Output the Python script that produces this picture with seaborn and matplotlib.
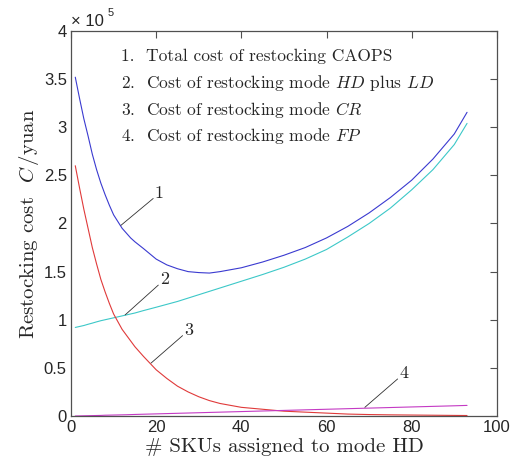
import pandas as pd
import matplotlib
matplotlib.use("Agg")
import matplotlib.pyplot as plt
from matplotlib.ticker import FuncFormatter, MultipleLocator
import seaborn as sns

# number of SKUs assigned to mode HD
n_sku = [1, 2, 3, 4, 5, 6, 7, 8, 9, 10, 11, 12, 13, 14, 15, 17, 20, 22.5, 25, 27.5, 30,
         32.5, 35, 40, 45, 50, 55, 60, 65, 70, 75, 80, 85, 90, 93]

# restocking costs (yuan)
cost_total = [352000, 330000, 309000, 291000, 272000, 256000, 242000, 230000, 219000,
              209000, 202000, 195000, 190000, 185000, 181000, 174000, 163000, 157000,
              153000, 150000, 149000, 148500, 150000, 154000, 160000, 167000, 175000,
              185000, 197000, 211000, 227000, 245000, 267000, 293000, 315500]
cost_hd_ld = [92000, 93000, 94000, 95300, 96500, 97800, 99000, 100000, 101000, 102000,
              103000, 104000, 105000, 106000, 107000, 109500, 113000, 116000, 119000,
              122500, 126000, 129500, 133000, 140000, 147000, 154500, 163000, 173000,
              186000, 200000, 216000, 235000, 256000, 282000, 304000]
cost_cr = [260000, 237000, 215000, 195000, 175000, 158000, 142000, 129000, 117000, 106000,
           98000, 90000, 84000, 78000, 72000, 62000, 48000, 39000, 31000, 25000, 20000,
           16000, 13000, 9000, 7000, 5000, 4000, 3000, 2000, 1500, 1200, 1000, 800, 600, 500]
cost_fp = [0, 100, 200, 300, 400, 500, 600, 800, 900, 1000, 1100, 1200, 1300, 1450, 1600,
           1850, 2200, 2500, 2800, 3100, 3400, 3700, 4000, 4600, 5200, 5800, 6400, 7000,
           7600, 8200, 8800, 9400, 10000, 10600, 11000]

legend_lines = [
    "1.  Total cost of restocking CAOPS",
    "2.  Cost of restocking mode $HD$ plus $LD$",
    "3.  Cost of restocking mode $CR$",
    "4.  Cost of restocking mode $FP$",
]

series = {"1": cost_total, "2": cost_hd_ld, "3": cost_cr, "4": cost_fp}
df = pd.concat(
    [pd.DataFrame({"n": n_sku, "cost": v, "curve": k}) for k, v in series.items()],
    ignore_index=True,
)

sns.set_style("white")
plt.rcParams["mathtext.fontset"] = "cm"
plt.rcParams["font.family"] = ["Liberation Sans", "DejaVu Sans"]

fig = plt.figure(figsize=(5.23, 4.66), dpi=100)
ax = fig.add_axes([0.1358, 0.1073, 0.8142, 0.8262])

palette = {"1": "#3a3ad0", "2": "#3cc8c8", "3": "#e03a3a", "4": "#c43ac4"}
sns.lineplot(data=df, x="n", y="cost", hue="curve", palette=palette,
             linewidth=0.8, legend=False, ax=ax)

ax.set_xlim(0, 100)
ax.set_ylim(0, 400000)
ax.xaxis.set_major_locator(MultipleLocator(20))
ax.yaxis.set_major_locator(MultipleLocator(50000))
ax.yaxis.set_major_formatter(FuncFormatter(lambda v, p: f"{v / 1e5:g}"))
ax.tick_params(direction="in", top=True, right=True, length=5, width=0.8,
               color="#505050", labelsize=12, pad=3)
for s in ax.spines.values():
    s.set_color("#505050")
    s.set_linewidth(0.9)

serif = ["cmr10", "DejaVu Serif"]
ax.set_xlabel("# SKUs assigned to mode HD", family=serif, fontsize=15, labelpad=2)
ax.set_ylabel("Restocking cost  $C\\,$/yuan", family=serif, fontsize=15, labelpad=2)

ax.text(0.0, 1.005, "\u00d7 10", transform=ax.transAxes, fontsize=12,
        ha="left", va="bottom")
ax.text(0.085, 1.035, "5", transform=ax.transAxes, fontsize=8,
        ha="left", va="bottom")

for i, line in enumerate(legend_lines):
    ax.text(0.118, 0.933 - i * 0.0685, line, transform=ax.transAxes,
            family=serif, fontsize=12.5, va="center", ha="left")

# numbered call-outs pointing at the curves
callouts = [("1", 11.7, 198000, 19.3, 226000),
            ("2", 12.7, 105000, 20.5, 136000),
            ("3", 18.8, 55000, 26.2, 83500),
            ("4", 69.0, 9000, 76.7, 38500)]
for lab, x0, y0, x1, y1 in callouts:
    ax.annotate("", xy=(x0, y0), xytext=(x1, y1),
                arrowprops=dict(arrowstyle="-", color="#303030", lw=0.6,
                                shrinkA=0, shrinkB=0))
    ax.text(x1 + 0.4, y1 + 1000, lab, family=serif, fontsize=13,
            ha="left", va="baseline")

fig.savefig("out.png", dpi=100)
